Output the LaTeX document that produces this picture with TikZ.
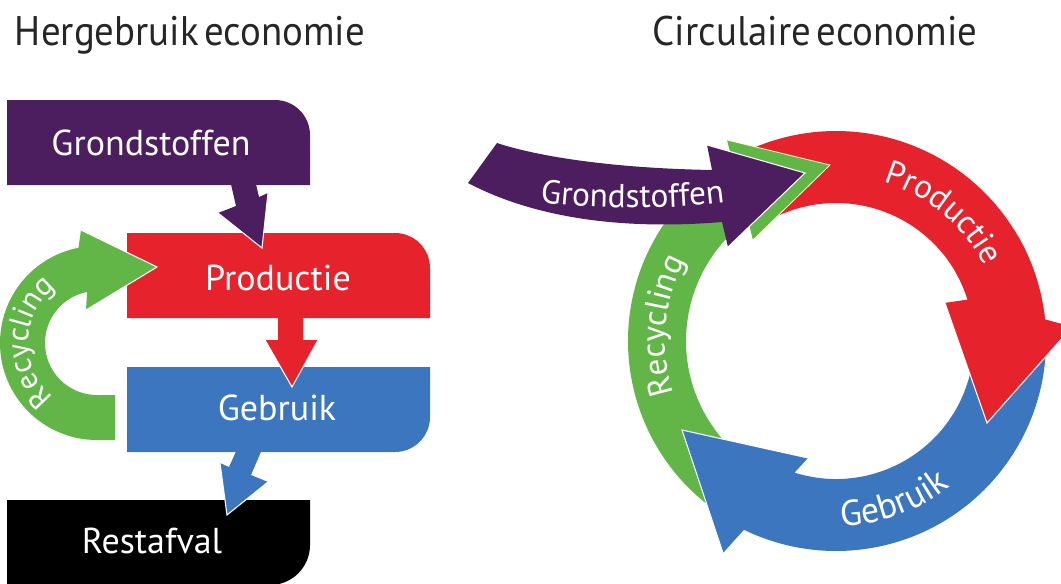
\documentclass[tikz,border=0pt]{standalone}
\usepackage{fontspec}
\setmainfont{PT Sans}
\newfontfamily\titlefam{PT Sans}[FakeStretch=0.94,WordSpace=0.55]
\usetikzlibrary{decorations.text}
\definecolor{cpurple}{RGB}{76,30,96}
\definecolor{cred}{RGB}{230,35,45}
\definecolor{cblue}{RGB}{60,118,190}
\definecolor{cgreen}{RGB}{98,182,72}
\newcommand\titlefont{\titlefam\fontsize{31}{35}\selectfont}
\newcommand\boxfont{\fontsize{27}{31}\selectfont}
\newcommand\ringfont{\fontsize{25}{29}\selectfont}
\newcommand\bigringfont{\fontsize{27}{31}\selectfont}
\newcommand\smallringfont{\fontsize{23}{27}\selectfont}
\begin{document}
\begin{tikzpicture}[x=0.75pt,y=0.75pt,
  boxtext/.style={text=white,font=\boxfont,anchor=base,inner sep=0pt},
  titletext/.style={text=black!85,font=\titlefont,anchor=base,inner sep=0pt},
  headedge/.style={draw=white,line width=0.8pt,line join=miter}]
\useasboundingbox (0,0) rectangle (1061,-583);
\clip (0,0) rectangle (1061,-583);
\coordinate (C) at (836,-341);
\coordinate (L) at (97,-343);

% ---------- titles ----------
\node[titletext] (t1) at (190,-45) {Hergebruik economie};
\node[titletext] (t2) at (815,-45) {Circulaire economie};

% ---------- left diagram ----------
% Restafval box
\fill[black] (7,-500) -- (310,-500) -- (310,-545) arc[start angle=0,end angle=-90,radius=40] -- (7,-585) -- cycle;
% blue arrow Gebruik -> Restafval
\fill[cblue] (238,-447) -- (263,-447) -- (251,-475) -- (268,-482) -- (227,-515) -- (220,-463) -- (229,-467) -- cycle;
\draw[headedge] (268,-482) -- (227,-515) -- (220,-463);
% Gebruik box
\fill[cblue] (127,-367) -- (430,-367) -- (430,-417) arc[start angle=0,end angle=-90,radius=35] -- (127,-452) -- cycle;
% red arrow Productie -> Gebruik
\fill[cred] (278,-313) -- (303,-313) -- (303,-340) -- (318,-340) -- (292,-387) -- (265,-340) -- (278,-340) -- cycle;
\draw[headedge] (318,-340) -- (292,-387) -- (265,-340);
% Productie box
\fill[cred] (127,-233) -- (395,-233) arc[start angle=90,end angle=0,radius=35] -- (430,-318) -- (127,-318) -- cycle;
% purple arrow Grondstoffen -> Productie
\fill[cpurple] (230,-180) -- (255,-180) -- (259,-197) -- (268,-193) -- (262,-248) -- (218,-213) -- (236,-206) -- cycle;
\draw[headedge] (268,-193) -- (262,-248) -- (218,-213);
% Grondstoffen box
\fill[cpurple] (7,-100) -- (275,-100) arc[start angle=90,end angle=0,radius=35] -- (310,-185) -- (7,-185) -- cycle;
% green recycling arrow
\fill[cgreen] (115,-440) -- (97,-440) arc[start angle=270,end angle=101,radius=97]
  -- (81,-230) -- (157,-267) -- (86,-310) -- ([shift={(L)}]101:52)
  arc[start angle=101,end angle=270,radius=52] -- (115,-395) -- cycle;
\draw[headedge] (81,-230) -- (157,-267) -- (86,-310);

\node[boxtext] (g1) at (151,-155) {Grondstoffen};
\node[boxtext] (p1) at (278,-290) {Productie};
\node[boxtext] (u1) at (277,-420) {Gebruik};
\node[boxtext] (r1) at (152,-553) {Restafval};
\path[decorate,decoration={text along path,text align=center,
  text={|\smallringfont\color{white}|Recycling}}]
  ([shift={(L)}]250:69) arc[start angle=250,end angle=108,radius=69];

% ---------- right diagram ----------
% red (Productie) full
\fill[cred] ([shift={(C)}]118:210) arc[start angle=118,end angle=5.9,radius=210]
  -- (1072,-327) -- (987,-423) -- (945,-303) -- ([shift={(C)}]17.4:138)
  arc[start angle=17.4,end angle=118,radius=138] -- cycle;
% green (Recycling)
\fill[cgreen] ([shift={(C)}]235:208) arc[start angle=235,end angle=119.9,radius=208]
  -- (727,-140) -- (830,-165) -- (753,-240) -- ([shift={(C)}]126:150)
  arc[start angle=126,end angle=235,radius=150] -- cycle;
\draw[draw=white!75!yellow,line width=0.6pt] (727,-140) -- (830,-165) -- (753,-240);
% blue (Gebruik)
\fill[cblue] ([shift={(C)}]8:210) arc[start angle=8,end angle=-116,radius=210]
  -- (723,-553) -- (682,-430) -- (808,-458) -- ([shift={(C)}]-107.5:138)
  arc[start angle=-107.5,end angle=8,radius=138] -- cycle;
\draw[headedge] (723,-553) -- (682,-430) -- (808,-458);
% red head on top of blue tail
\fill[cred] ([shift={(C)}]30:210) arc[start angle=30,end angle=5.9,radius=210]
  -- (1072,-327) -- (987,-423) -- (945,-303) -- ([shift={(C)}]17.4:138)
  arc[start angle=17.4,end angle=30,radius=138] -- cycle;
\draw[headedge] (1072,-327) -- (987,-423) -- (945,-303);
% purple (Grondstoffen) arrow
\fill[cpurple] (497,-143) .. controls (530,-154) and (600,-168) .. (712,-170)
  -- (707,-145) -- (805,-173) -- (728,-247) -- (722,-222)
  .. controls (650,-228) and (550,-226) .. (468,-183) -- cycle;
\draw[headedge] (707,-145) -- (805,-173) -- (728,-247);

% ring texts
\path[decorate,decoration={text along path,text align=center,
  text={|\ringfont\color{white}|Grondstoffen}}]
  (529,-200) .. controls (578,-210) and (682,-210) .. (736,-201);
\path[decorate,decoration={text along path,text align=center,
  text={|\ringfont\color{white}|Productie}}]
  ([shift={(C)}]97:166) arc[start angle=97,end angle=3,radius=166];
\path[decorate,decoration={text along path,text align=center,
  text={|\bigringfont\color{white}|Gebruik}}]
  ([shift={(C)}]245:185) arc[start angle=245,end angle=335,radius=185];
\path[decorate,decoration={text along path,text align=center,
  text={|\ringfont\color{white}|Recycling}}]
  ([shift={(C)}]222:171) arc[start angle=222,end angle=128,radius=171];
\end{tikzpicture}
\end{document}
